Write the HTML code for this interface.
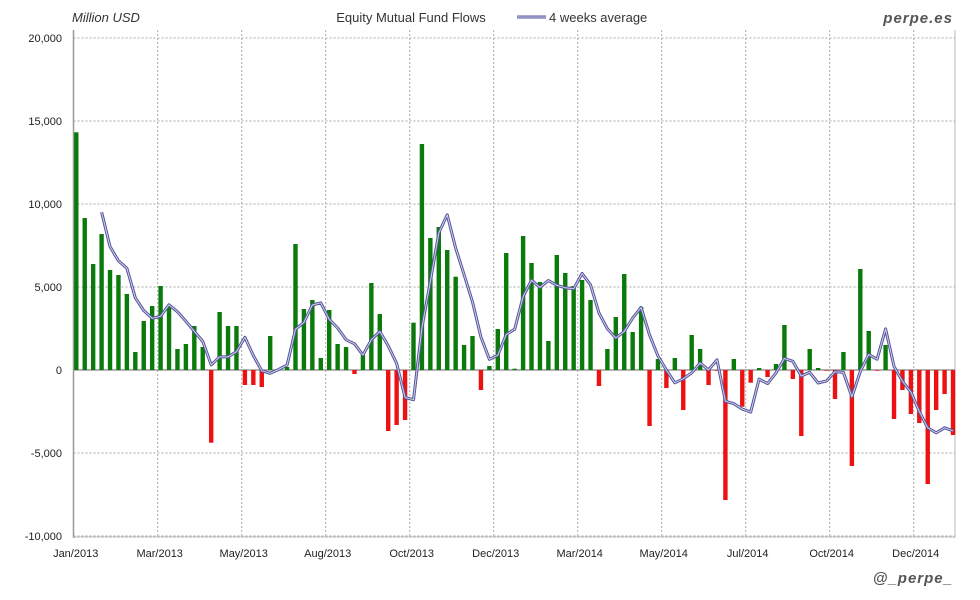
<!DOCTYPE html>
<html><head><meta charset="utf-8"><style>
html,body{margin:0;padding:0;background:#fff;}
svg{display:block;font-family:"Liberation Sans",sans-serif;}
</style></head><body>
<svg id="c" width="980" height="600" xmlns="http://www.w3.org/2000/svg">
<rect width="980" height="600" fill="#fff"/>
<g id="grid"></g>
<g id="bars"></g>
<g id="line"></g>
<g font-size="11" fill="#222" text-anchor="end" id="ylab"></g>
<g font-size="11" fill="#222" text-anchor="middle" id="xlab"></g>
<text x="72" y="22" font-size="13" font-style="italic" fill="#333">Million USD</text>
<text x="411" y="22" font-size="13" fill="#333" text-anchor="middle">Equity Mutual Fund Flows</text>
<line x1="517" y1="17" x2="546" y2="17" stroke="#55559a" stroke-width="3"/>
<line x1="517" y1="17" x2="546" y2="17" stroke="#d0d0ee" stroke-width="1"/>
<text x="549" y="22" font-size="13" fill="#333">4 weeks average</text>
<text x="953" y="23" font-size="15" font-style="italic" font-weight="bold" fill="#555" text-anchor="end" letter-spacing="1">perpe.es</text>
<text x="953" y="583" font-size="15" font-style="italic" font-weight="bold" fill="#555" text-anchor="end" letter-spacing="1">@_perpe_</text>
</svg>
<script>
var NS="http://www.w3.org/2000/svg";
function el(p,t,a){var e=document.createElementNS(NS,t);for(var k in a)e.setAttribute(k,a[k]);document.getElementById(p).appendChild(e);return e;}
var Z=370,L=73.5,R=955;
// horizontal grid
var yl=["20,000","15,000","10,000","5,000","0","-5,000","-10,000"];
for(var k=0;k<7;k++){var y=38+83*k;
 if(k!=4)el("grid","line",{x1:L,x2:R,y1:y,y2:y,stroke:"#aaa","stroke-dasharray":"2,2","stroke-width":1});
 var t=el("ylab","text",{x:62,y:y+4});t.textContent=yl[k];}
var xs=["Jan/2013","Mar/2013","May/2013","Aug/2013","Oct/2013","Dec/2013","Mar/2014","May/2014","Jul/2014","Oct/2014","Dec/2014"];
for(var i=0;i<11;i++){var x=73.7+84*i;
 if(i>0)el("grid","line",{x1:x,x2:x,y1:30,y2:538,stroke:"#aaa","stroke-dasharray":"2,2","stroke-width":1});
 var t=el("xlab","text",{x:x+2,y:557});t.textContent=xs[i];}
el("grid","line",{x1:L,x2:L,y1:30,y2:538,stroke:"#999","stroke-width":1.5});
el("grid","line",{x1:R,x2:R,y1:30,y2:538,stroke:"#bbb","stroke-width":1});
el("grid","line",{x1:L,x2:R,y1:Z,y2:Z,stroke:"#999","stroke-width":1.5});
el("grid","line",{x1:L,x2:R,y1:537,y2:537,stroke:"#bbb","stroke-width":1});
var tops=[132.3,218,264,234,270,275,294,352,321,306,286,306,349,344,326,347,442.7,312,326,326,385,385,387,336,370,367,244,309,300,358,310,344,347,374,355,283,
314,431,425,420,322.7,144,238,227,250,276.7,345,336,390,366,329,253,368.7,236,263,282,341,255,273,286,280,300,386,349,317,274,332,307,426,359,388,
358,410,335,349,385,370.7,500,359,406.7,382.7,368,377,364,325,379,436,349,368,370.7,399,352,466,269,331,370.7,345,419,390,414,423,484,410,394,435];
var v=tops.map(function(t){return Z-t;});
for(var i=0;i<v.length;i++){var x=76.3+8.43*i;var h=v[i];if(Math.abs(h)<0.2)continue;
 el("bars","rect",{x:x-2.2,y:h>0?Z-h:Z,width:4.4,height:Math.abs(h),fill:h>0?"#0a7a0a":"#ee1111"});}
var pts=[];for(var i=3;i<v.length;i++){var a=(v[i]+v[i-1]+v[i-2]+v[i-3])/4;pts.push((76.3+8.43*i).toFixed(1)+","+(Z-a).toFixed(1));}
el("line","polyline",{points:pts.join(" "),fill:"none",stroke:"#55559a","stroke-width":3,"stroke-linejoin":"round"});
el("line","polyline",{points:pts.join(" "),fill:"none",stroke:"#d0d0ee","stroke-width":1,"stroke-linejoin":"round"});
</script>
</body></html>
